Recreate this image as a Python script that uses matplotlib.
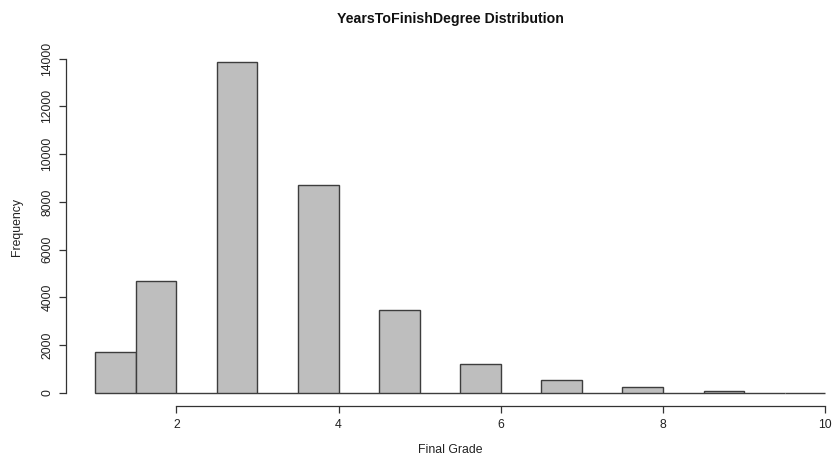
import matplotlib
matplotlib.use("Agg")
import matplotlib.pyplot as plt
import numpy as np

# histogram of years to finish degree, bins of width 0.5 from 1 to 10
bin_edges = np.arange(1.0, 10.01, 0.5)
counts = [1700, 4690, 0, 13850, 0, 8700, 0, 3460, 0, 1210, 0, 545, 0, 240, 0, 80, 0, 20]
x_ticks = [2, 4, 6, 8, 10]
y_ticks = [0, 2000, 4000, 6000, 8000, 10000, 12000, 14000]

plt.rcParams['font.family'] = ['Liberation Sans', 'DejaVu Sans']

fig = plt.figure(figsize=(8.35, 4.61), dpi=100)
ax = fig.add_axes([66 / 835, 55 / 461, 769 / 835, 357 / 461])

ax.bar(bin_edges[:-1], counts, width=0.5, align='edge',
       color='#bebebe', edgecolor='#3d3d3d', linewidth=1.0)

ax.set_xlim(0.64, 10.12)
ax.set_ylim(-544, 14404)

for side in ['top', 'right']:
    ax.spines[side].set_visible(False)
ax.spines['left'].set_bounds(0, 14000)
ax.spines['bottom'].set_bounds(2, 10)
for side in ['left', 'bottom']:
    ax.spines[side].set_color('#333333')
    ax.spines[side].set_linewidth(0.9)

ax.set_xticks(x_ticks)
ax.set_yticks(y_ticks)
ax.set_yticklabels([str(v) for v in y_ticks], rotation=90, va='center')
ax.tick_params(axis='both', length=5, width=0.9, color='#333333',
               labelsize=8.8, labelcolor='#222222', pad=4)

ax.set_title('YearsToFinishDegree Distribution', fontsize=10.2,
             fontweight='bold', pad=19, color='#111111')
ax.set_xlabel('Final Grade', fontsize=8.8, labelpad=10, color='#222222')
ax.set_ylabel('Frequency', fontsize=8.8, labelpad=13, color='#222222')

plt.savefig('out.png', dpi=100)
plt.close()
